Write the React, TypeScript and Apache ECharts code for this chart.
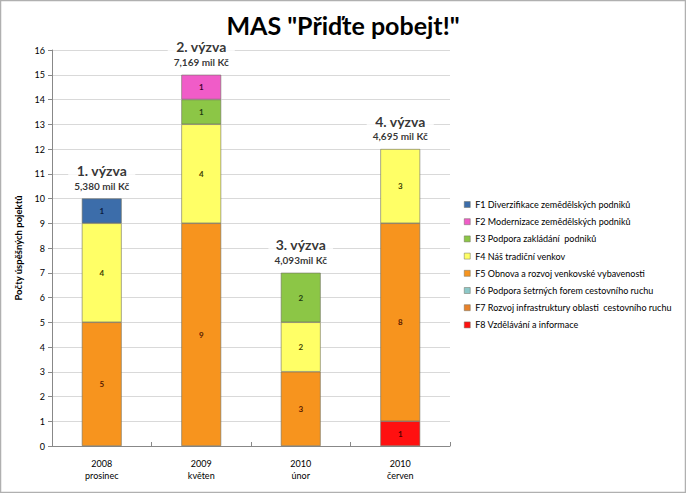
import React, { useEffect, useRef } from "react";
import * as echarts from "echarts";

const categories = ["2008\nprosinec", "2009\nkvěten", "2010\núnor", "2010\nčerven"];
const seriesNames = [
  "F1 Diverzifikace zemědělských podniků",
  "F2 Modernizace zemědělských podniků",
  "F3 Podpora zakládání  podniků",
  "F4 Náš tradiční venkov",
  "F5 Obnova a rozvoj venkovské vybavenosti",
  "F6 Podpora šetrných forem cestovního ruchu",
  "F7 Rozvoj infrastruktury oblasti  cestovního ruchu",
  "F8 Vzdělávání a informace",
];
const f1 = [1, 0, 0, 0];
const f2 = [0, 1, 0, 0];
const f3 = [0, 1, 2, 0];
const f4 = [4, 4, 2, 3];
const f5 = [5, 9, 3, 8];
const f6 = [0, 0, 0, 0];
const f7 = [0, 0, 0, 0];
const f8 = [0, 0, 0, 1];
const callNames = ["1. výzva", "2. výzva", "3. výzva", "4. výzva"];
const callAmounts = ["5,380 mil Kč", "7,169 mil Kč", "4,093mil Kč", "4,695 mil Kč"];
const yTicks = { min: 0, max: 16, interval: 1 };

const colors = ["#3C6DAA", "#F05CC8", "#8CC646", "#FFFF66", "#F7941E", "#8CC8C8", "#E8822A", "#FF1010"];
const labelColors = ["#0a1a40", "#400030", "#203a10", "#404000", "#5a1a00", "#103a3a", "#5a1a00", "#500000"];

export default function App() {
  const ref = useRef<HTMLDivElement>(null);
  useEffect(() => {
    const chart = echarts.init(ref.current!, null, { renderer: "svg" });
    const data = [f1, f2, f3, f4, f5, f6, f7, f8];
    const totals = categories.map((_, i) => data.reduce((s, d) => s + d[i], 0));
    const order = [7, 6, 5, 4, 3, 2, 1, 0];
    const barSeries = order.map((k) => ({
      name: seriesNames[k],
      type: "bar",
      stack: "total",
      barWidth: "40%",
      data: data[k].map((v) => (v ? v : null)),
      itemStyle: { color: colors[k], borderColor: "#6f6f5f", borderWidth: 0.6 },
      label: {
        show: true,
        position: "inside",
        fontSize: 8,
        fontWeight: "bold",
        fontFamily: "Lato, sans-serif",
        color: labelColors[k],
        formatter: (p: any) => (p.value ? String(p.value) : ""),
      },
    }));
    chart.setOption({
      animation: false,
      backgroundColor: "#fff",
      title: {
        text: 'MAS "Přiďte pobejt!"',
        left: 338,
        textAlign: "center",
        top: 7,
        textStyle: { fontSize: 25, fontWeight: "bold", fontFamily: "Lato, sans-serif", color: "#000" },
      },
      graphic: [
        {
          type: "rect",
          shape: { x: 0.5, y: 0.5, width: 685, height: 492 },
          style: { fill: "none", stroke: "#b0b0b0", lineWidth: 1.5 },
          silent: true,
          z: 100,
        },
      ],
      legend: {
        orient: "vertical",
        left: 459,
        top: 195,
        itemWidth: 6,
        itemHeight: 6,
        itemGap: 8.2,
        icon: "rect",
        data: seriesNames,
        textStyle: { fontSize: 9, fontFamily: "Lato, sans-serif", color: "#000" },
        itemStyle: { borderColor: "#6f6f5f", borderWidth: 0.5 },
      },
      grid: { left: 52, right: 236, top: 50, bottom: 47 },
      xAxis: {
        type: "category",
        data: categories,
        axisLine: { lineStyle: { color: "#888" } },
        axisTick: { show: true, inside: true, length: 4, lineStyle: { color: "#888" } },
        axisLabel: { fontSize: 9, fontFamily: "Lato, sans-serif", color: "#000", lineHeight: 12, margin: 11 },
      },
      yAxis: {
        type: "value",
        min: yTicks.min,
        max: yTicks.max,
        interval: yTicks.interval,
        name: "Počty úspěšných pojektů",
        nameLocation: "middle",
        nameGap: 28,
        nameTextStyle: { fontSize: 9.5, fontWeight: "bold", fontFamily: "Lato, sans-serif", color: "#000" },
        axisLine: { show: true, lineStyle: { color: "#888" } },
        axisTick: { show: true, length: 4, lineStyle: { color: "#888" } },
        axisLabel: { fontSize: 9, fontFamily: "Lato, sans-serif", color: "#000", margin: 7 },
        splitLine: { lineStyle: { color: "#d9d9d9" } },
      },
      series: [
        ...barSeries,
        {
          type: "scatter",
          name: "výzvy",
          data: totals,
          symbolSize: 0,
          silent: true,
          label: {
            show: true,
            position: "top",
            distance: 6,
            formatter: (p: any) => `{a|${callNames[p.dataIndex]}}\n{b|${callAmounts[p.dataIndex]}}`,
            backgroundColor: "#fff",
            padding: [0, 6, 0, 6],
            rich: {
              a: { fontSize: 14, fontWeight: "bold", fontFamily: "Lato, sans-serif", color: "#000", lineHeight: 16 },
              b: { fontSize: 10, fontWeight: "bold", fontFamily: "Lato, sans-serif", color: "#000", lineHeight: 14 },
            },
          },
        },
      ],
    });
    return () => chart.dispose();
  }, []);
  return <div ref={ref} style={{ position: "absolute", left: 0, top: 0, width: 686, height: 493 }} />;
}
